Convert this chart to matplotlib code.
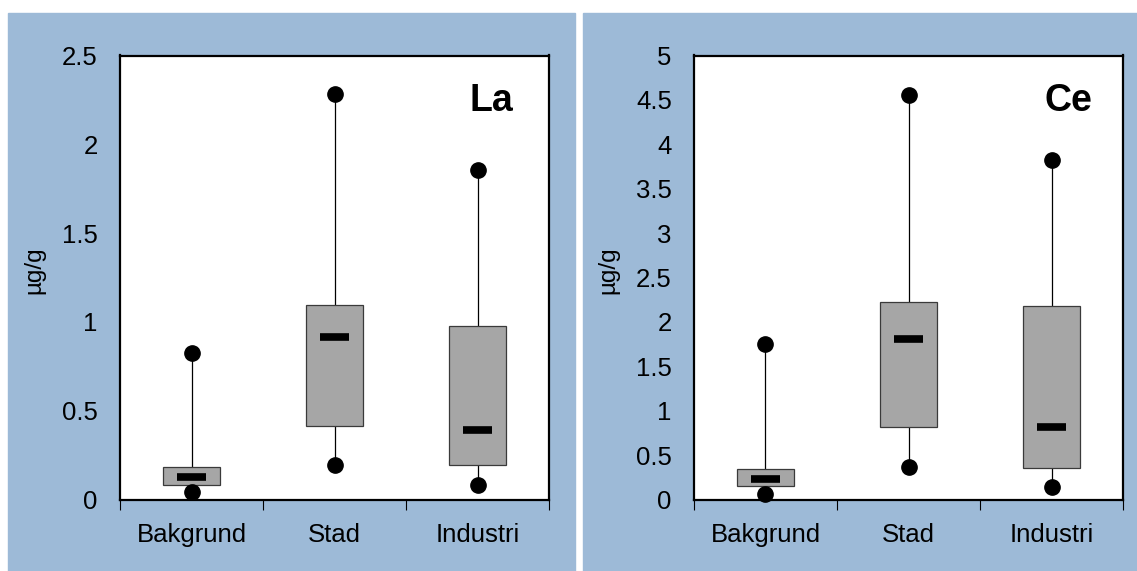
import matplotlib.pyplot as plt
from matplotlib.patches import Rectangle

plt.rcParams['font.family'] = ['Liberation Sans', 'DejaVu Sans']

categories = ['Bakgrund', 'Stad', 'Industri']

# La: min, q1, median, q3, max (µg/g)
la_min = [0.042, 0.194, 0.080]
la_q1 = [0.083, 0.414, 0.193]
la_med = [0.125, 0.915, 0.390]
la_q3 = [0.181, 1.095, 0.977]
la_max = [0.825, 2.283, 1.855]

# Ce: min, q1, median, q3, max (µg/g)
ce_min = [0.062, 0.370, 0.144]
ce_q1 = [0.149, 0.813, 0.351]
ce_med = [0.227, 1.807, 0.820]
ce_q3 = [0.343, 2.224, 2.179]
ce_max = [1.751, 4.555, 3.823]

la_ticks = [0, 0.5, 1, 1.5, 2, 2.5]
la_ticklabels = ['0', '0.5', '1', '1.5', '2', '2.5']
ce_ticks = [0, 0.5, 1, 1.5, 2, 2.5, 3, 3.5, 4, 4.5, 5]
ce_ticklabels = ['0', '0.5', '1', '1.5', '2', '2.5', '3', '3.5', '4', '4.5', '5']

W, H = 1137, 571
bg = '#9dbad7'

fig = plt.figure(figsize=(W / 100, H / 100), dpi=100)

# blue panel backgrounds, kept behind the axes
fig.patches.append(Rectangle((8 / W, 0), (575 - 8) / W, (H - 13) / H,
                             transform=fig.transFigure, color=bg, zorder=-1))
fig.patches.append(Rectangle((583 / W, 0), (W - 583) / W, (H - 13) / H,
                             transform=fig.transFigure, color=bg, zorder=-1))


def draw_panel(left_px, mins, q1, med, q3, maxs, ticks, ticklabels, ymax, name, name_px):
    ax = fig.add_axes([left_px / W, 71.5 / H, 429 / W, 444 / H])
    x = [1, 2, 3]
    ax.vlines(x, mins, maxs, color='black', lw=0.9, zorder=1)
    heights = [b - a for a, b in zip(q1, q3)]
    ax.bar(x, heights, bottom=q1, width=0.4, color='#a6a6a6',
           edgecolor='#3a3a3a', linewidth=0.9, zorder=2)
    ax.hlines(med, [i - 0.1 for i in x], [i + 0.1 for i in x],
              color='black', lw=5.5, zorder=3)
    ax.plot(x, mins, 'o', color='black', ms=11, zorder=4, clip_on=False)
    ax.plot(x, maxs, 'o', color='black', ms=11, zorder=4, clip_on=False)

    ax.set_xlim(0.5, 3.5)
    ax.set_ylim(0, ymax)
    ax.set_yticks(ticks)
    ax.set_yticklabels(ticklabels, fontsize=18.5)
    ax.tick_params(axis='y', length=0, pad=16)
    ax.set_xticks(x)
    ax.set_xticklabels(categories, fontsize=18.5)
    ax.set_xticks([0.5, 1.5, 2.5, 3.5], minor=True)
    ax.tick_params(axis='x', which='major', length=0, pad=17)
    ax.tick_params(axis='x', which='minor', length=7, width=0.8, direction='out')
    for sp in ax.spines.values():
        sp.set_linewidth(1.6)
        sp.set_color('black')
    ax.text(name_px[0] / W, name_px[1] / H, name, transform=fig.transFigure,
            ha='right', va='baseline', fontsize=27, fontweight='bold')
    fig.text((left_px - 86) / W, 1 - 270 / H, 'µg/g', rotation=90,
             ha='center', va='center', fontsize=17.5)
    return ax


draw_panel(120, la_min, la_q1, la_med, la_q3, la_max,
           la_ticks, la_ticklabels, 2.5, 'La', (513, H - 110.7))
draw_panel(694, ce_min, ce_q1, ce_med, ce_q3, ce_max,
           ce_ticks, ce_ticklabels, 5, 'Ce', (1092, H - 110.7))

fig.savefig('out.png', dpi=100)
